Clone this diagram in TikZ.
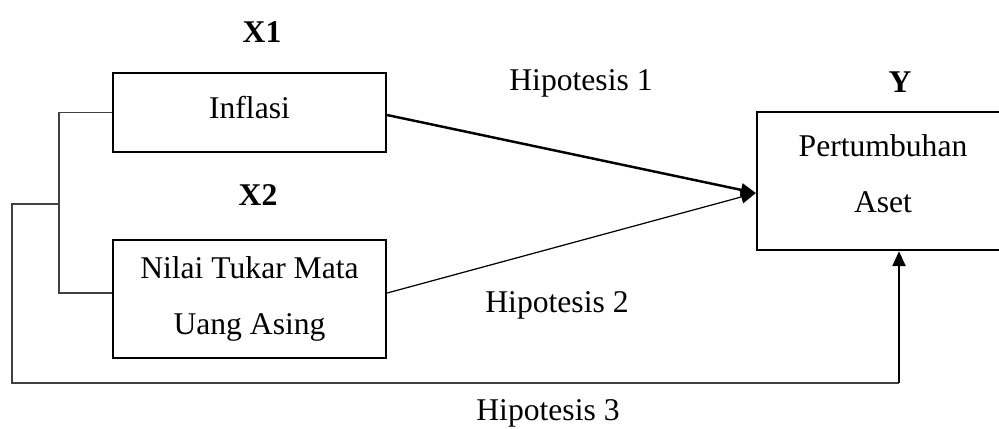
\documentclass[tikz,border=0pt]{standalone}
\usepackage{fontspec}
\setmainfont{Liberation Serif}
\usetikzlibrary{arrows.meta,calc}

\begin{document}
\begin{tikzpicture}[
        kotak/.style={draw, line width=1.3pt, align=center, inner sep=0pt, font=\fontsize{18}{32}\selectfont},
        teks/.style={font=\fontsize{18}{22}\selectfont},
        garis/.style={draw=black!75, line width=0.8pt},
        panah/.style={-{Triangle[length=3mm,width=2.6mm]}}
    ]
        \useasboundingbox (0,0) rectangle (19.98,-8.56);

        \node[kotak, minimum width=5.46cm, minimum height=1.58cm, text depth=0.22cm] (inflasi) at (4.99,-2.25) {Inflasi};
        \node[kotak, minimum width=5.46cm, minimum height=2.36cm] (nilai) at (4.99,-5.98) {Nilai Tukar Mata\\Uang Asing};
        \node[kotak, minimum width=5.04cm, minimum height=2.76cm, text depth=0.3cm] (aset) at (17.66,-3.62) {Pertumbuhan\\Aset};

        \node[teks] (x1) at (5.24,-0.64) {\textbf{X1}};
        \node[teks] (x2) at (5.16,-3.9) {\textbf{X2}};
        \node[teks] (y) at (18,-1.64) {\textbf{Y}};
        \node[teks] (h1) at (11.62,-1.66) {Hipotesis 1};
        \node[teks] (h2) at (11.14,-6.1) {Hipotesis 2};
        \node[teks] (h3) at (10.96,-8.26) {Hipotesis 3};

        \coordinate (tip) at ($(aset.west)+(0,-0.24)$);
        \coordinate (kiri) at (1.18,-4.08);
        \coordinate (bawah) at (17.98,-7.66);

        \draw[panah, line width=1.4pt] ($(inflasi.east)+(0,-0.05)$) -- (tip);
        \draw[panah, line width=0.7pt] ($(nilai.east)+(0,0.12)$) -- (tip);

        \draw[garis] (inflasi.west) -| (kiri) |- ($(nilai.west)+(0,0.12)$);
        \draw[garis] (kiri) -- (0.24,-4.08) |- (bawah);
        \draw[panah, line width=1.3pt] (bawah) -- (bawah |- aset.south);
\end{tikzpicture}
\end{document}
